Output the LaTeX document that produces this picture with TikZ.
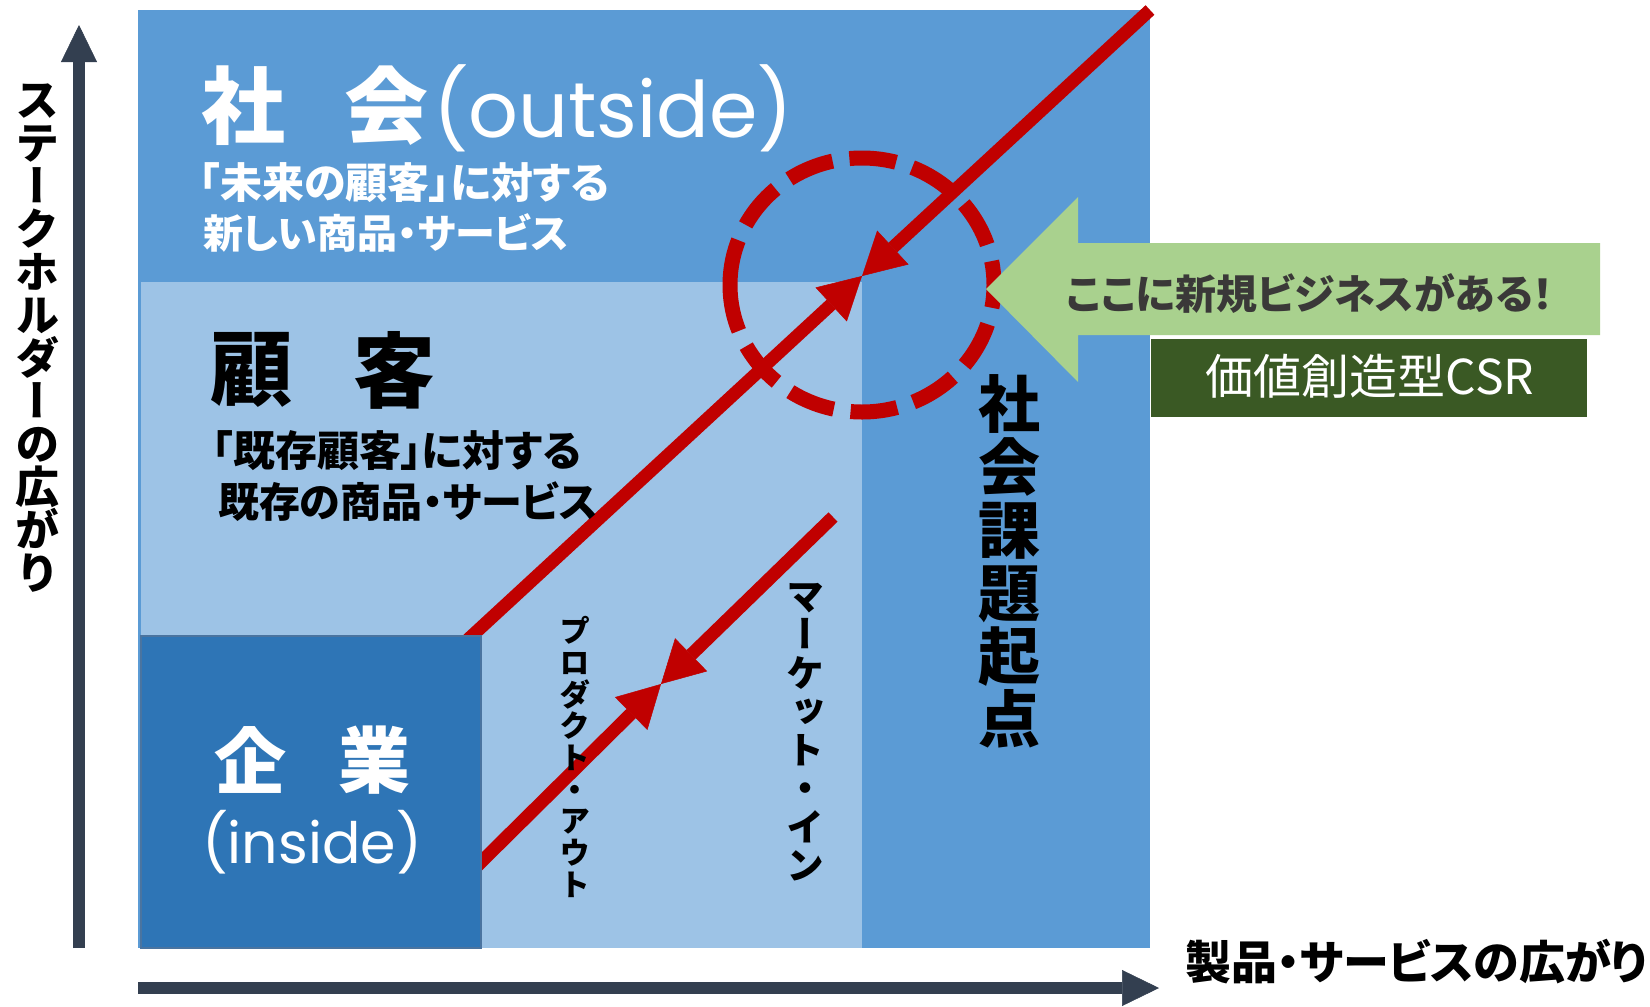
\documentclass[tikz,border=0pt]{standalone}
\usepackage{fontspec}
\usetikzlibrary{arrows.meta}
\newfontfamily\jp[RawFeature=+palt]{Noto Sans CJK JP}
\newfontfamily\jpv[RawFeature=+vert]{Noto Sans CJK JP}
\newfontfamily\lat{Poppins}
\definecolor{outerblue}{HTML}{5B9BD5}
\definecolor{lightblue}{HTML}{9DC3E6}
\definecolor{darkblue}{HTML}{2E75B6}
\definecolor{rimblue}{HTML}{4A74A0}
\definecolor{cred}{HTML}{C00000}
\definecolor{axiscol}{HTML}{333F50}
\definecolor{lgreen}{HTML}{A9D18E}
\definecolor{dgreen}{HTML}{3A5924}
\definecolor{dgray}{HTML}{3A3838}
\tikzset{
  txt/.style={inner sep=0pt, outer sep=0pt},
  vtext/.style={txt, align=center},
  redline/.style={draw=cred, line width=13pt},
  redarrow/.style={redline, -{Triangle[length=42pt,width=46pt,line width=0.5pt]}},
  axisline/.style={draw=axiscol, line width=12pt, -{Triangle[length=37pt,width=36pt,line width=0.5pt]}},
}
\begin{document}
\begin{tikzpicture}[x=1pt,y=-1pt]
\useasboundingbox (0,0) rectangle (1650,1007);
\fill[white] (0,0) rectangle (1650,1007);

% regions
\fill[outerblue] (138,10) rectangle (1150,948);
\fill[lightblue] (141,282) rectangle (862,948);

% dashed circle
\draw[cred, line width=15pt, dash pattern=on 47pt off 17pt]
  (862,285) ++(-132,0) arc[start angle=180, end angle=540, x radius=132pt, y radius=127pt];

% main red line with two arrows meeting
\coordinate (meet) at (862,276);
\coordinate (topend) at (1150,10);
\coordinate (lowstart) at (462,645);
\draw[redarrow] (topend) -- (meet);
\draw[redarrow] (lowstart) -- (meet);

% product-out / market-in
\coordinate (meet2) at (661,684);
\coordinate (postart) at (470,873);
\coordinate (mistart) at (833,517);
\draw[redarrow] (postart) -- (meet2);
\draw[redarrow] (mistart) -- (meet2);

% company box
\fill[darkblue, draw=rimblue, line width=1.5pt] (141,636) rectangle (481,948);

% axes
\draw[axisline] (79,948) -- (79,25);
\draw[axisline] (138,988) -- (1159,988);

% green arrow and CSR box
\fill[lgreen] (986,289) -- (1078,197) -- (1078,243) -- (1600,243) -- (1600,335)
  -- (1078,335) -- (1078,382) -- cycle;
\fill[dgreen] (1151,339) rectangle (1587,417);

% texts: society
\node[txt, text=white, font=\jp\bfseries\fontsize{84}{84}\selectfont] (sha) at (243,106) {社};
\node[txt, text=white, font=\jp\bfseries\fontsize{84}{84}\selectfont] (kai) at (386,106) {会};
\node[txt, anchor=west, text=white, font=\lat\fontsize{78}{78}\selectfont] (outside) at (433,108) {(outside)};
\node[txt, anchor=west, text=white, font=\jp\bfseries\fontsize{42}{42}\selectfont] (mirai) at (199,183) {「未来の顧客」に対する};
\node[txt, anchor=west, text=white, font=\jp\bfseries\fontsize{40}{40}\selectfont] (atarashii) at (203,233) {新しい商品・サービス};

% customer
\node[txt, font=\jp\bfseries\fontsize{82}{82}\selectfont] (ko) at (251,370) {顧};
\node[txt, font=\jp\bfseries\fontsize{82}{82}\selectfont] (kyaku) at (394,370) {客};
\node[txt, anchor=west, font=\jp\bfseries\fontsize{42}{42}\selectfont] (kizon) at (212,451) {「既存顧客」に対する};
\node[txt, anchor=west, font=\jp\bfseries\fontsize{41}{41}\selectfont] (kizon2) at (218,502) {既存の商品・サービス};

% company
\node[txt, text=white, font=\jp\bfseries\fontsize{72}{72}\selectfont] (ki) at (250,760) {企};
\node[txt, text=white, font=\jp\bfseries\fontsize{72}{72}\selectfont] (gyo) at (374,760) {業};
\node[txt, text=white, font=\lat\fontsize{57}{57}\selectfont] (inside) at (312,842) {(inside)};

% vertical labels
\node[vtext, font=\jpv\bfseries\fontsize{62}{63}\selectfont] (kadai) at (1009,561)
  {社\\会\\課\\題\\起\\点};
\node[vtext, font=\jpv\bfseries\fontsize{38}{38.5}\selectfont] (marketin) at (805,732)
  {マ\\ー\\ケ\\ッ\\ト\\・\\イ\\ン};
\node[vtext, font=\jpv\bfseries\fontsize{31}{31.7}\selectfont] (productout) at (575,757)
  {プ\\ロ\\ダ\\ク\\ト\\・\\ア\\ウ\\ト};
\node[vtext, font=\jpv\bfseries\fontsize{44}{43}\selectfont] (ylab) at (37,338)
  {ス\\テ\\ー\\ク\\ホ\\ル\\ダ\\ー\\の\\広\\が\\り};

% x-axis label
\node[txt, anchor=west, font=\jp\bfseries\fontsize{46}{46}\selectfont] (xlab) at (1185,962) {製品・サービスの広がり};

% green arrow text, CSR
\node[txt, text=dgray, font=\jp\bfseries\fontsize{41}{41}\selectfont] (koko) at (1310,294) {ここに新規ビジネスがある！};
\node[txt, text=white, font=\jp\fontsize{48}{48}\selectfont] (csr) at (1370,376) {価値創造型CSR};
\end{tikzpicture}
\end{document}
